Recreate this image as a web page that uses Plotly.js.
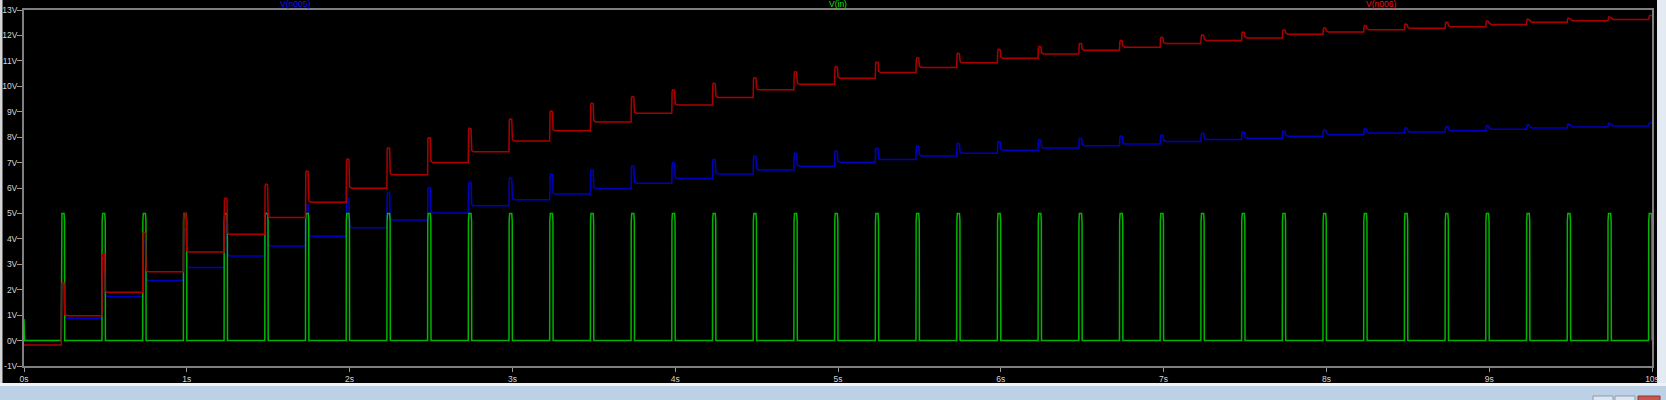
<!DOCTYPE html>
<html>
<head>
<meta charset="utf-8">
<script src="https://cdn.plot.ly/plotly-3.0.1.min.js"></script>
<style>
html,body{margin:0;padding:0;background:#000;overflow:hidden;}
#chart{width:1666px;height:400px;}
</style>
</head>
<body>
<div id="chart"></div>
<script>
// ---- data ----
const traceNames = ["V(n005)", "V(in)", "V(n006)"];
const xTickVals = [0,1,2,3,4,5,6,7,8,9,10];
const xTickText = ["0s","1s","2s","3s","4s","5s","6s","7s","8s","9s","10s"];
const yTickVals = [-1,0,1,2,3,4,5,6,7,8,9,10,11,12,13];
const yTickText = ["-1V","0V","1V","2V","3V","4V","5V","6V","7V","8V","9V","10V","11V","12V","13V"];

// rising edge of each input pulse (s)
const pulseOn = [0.229,0.479,0.729,0.979,1.229,1.479,1.729,1.979,2.229,2.479,
                 2.729,2.979,3.229,3.479,3.729,3.979,4.229,4.479,4.729,4.979,
                 5.229,5.479,5.729,5.979,6.229,6.479,6.729,6.979,7.229,7.479,
                 7.729,7.979,8.229,8.479,8.729,8.979,9.229,9.479,9.729,9.979];
const pulseWidth = 0.021;
const inHigh = 5;
const inLow = 0;
const inStart = 0.85;

// V(n006): plateau level before each pulse, and peak during each pulse
const redLevel = [-0.17,0.98,1.90,2.71,3.48,4.18,4.84,5.44,5.99,6.52,
                  7.00,7.43,7.85,8.25,8.60,8.94,9.26,9.56,9.86,10.08,
                  10.32,10.54,10.74,10.93,11.10,11.27,11.42,11.54,11.68,11.80,
                  11.90,12.05,12.13,12.22,12.28,12.34,12.43,12.52,12.58,12.63];
const redPeak = [2.28,3.41,4.26,5.00,5.60,6.15,6.67,7.14,7.58,7.98,
                 8.35,8.72,9.03,9.34,9.60,9.86,10.12,10.34,10.58,10.78,
                 10.95,11.13,11.30,11.46,11.57,11.69,11.80,11.93,12.02,12.13,
                 12.22,12.30,12.39,12.45,12.52,12.57,12.64,12.68,12.73,12.78];

// V(n005)
const blueLevel = [0.00,0.88,1.73,2.36,2.87,3.33,3.72,4.10,4.44,4.74,
                   5.02,5.30,5.54,5.76,5.98,6.19,6.37,6.55,6.71,6.86,
                   7.01,7.12,7.26,7.37,7.48,7.57,7.66,7.73,7.83,7.91,
                   7.96,8.04,8.10,8.16,8.20,8.25,8.31,8.36,8.40,8.44];
const bluePeak = [2.20,3.24,3.90,4.38,4.75,5.03,5.34,5.60,5.82,6.02,
                  6.23,6.41,6.55,6.71,6.87,7.00,7.13,7.26,7.37,7.46,
                  7.57,7.66,7.76,7.83,7.90,7.96,8.05,8.09,8.16,8.21,
                  8.25,8.29,8.33,8.37,8.42,8.44,8.48,8.52,8.55,8.57];

// ---- build waveforms from the values ----
function buildNode(levels, peaks) {
  const x = [0], y = [levels[0]];
  for (let k = 0; k < pulseOn.length; k++) {
    const on = pulseOn[k], off = on + pulseWidth;
    x.push(on, on + 0.002, on + 0.006);
    y.push(levels[k], peaks[k] - 0.06, peaks[k]);
    if (k < pulseOn.length - 1) {
      x.push(off - 0.004, off, off + 0.012);
      y.push(peaks[k] - 0.02, levels[k + 1] + 0.05, levels[k + 1]);
    } else {
      x.push(10);
      y.push(peaks[k]);
    }
  }
  return {x, y};
}
function buildInput() {
  const x = [0, 0.003], y = [inStart, inLow];
  for (let k = 0; k < pulseOn.length; k++) {
    const on = pulseOn[k], off = Math.min(on + pulseWidth, 10);
    x.push(on, on + 0.001, on + 0.004, off - 0.004, off - 0.001, off);
    y.push(inLow, inHigh - 0.3, inHigh, inHigh, inHigh - 0.3, inLow);
  }
  return {x, y};
}

const blue = buildNode(blueLevel, bluePeak);
const green = buildInput();
const red = buildNode(redLevel, redPeak);

const traces = [
  {x: blue.x, y: blue.y, mode: "lines", name: traceNames[0], line: {color: "#0000c0", width: 1.5}, hoverinfo: "skip"},
  {x: green.x, y: green.y, mode: "lines", name: traceNames[1], line: {color: "#00b400", width: 1.5}, hoverinfo: "skip"},
  {x: red.x, y: red.y, mode: "lines", name: traceNames[2], line: {color: "#ac0000", width: 1.5}, hoverinfo: "skip"}
];

// helpers for decorative window chrome (pixel -> paper)
const L = 24, R = 14, T = 10, B = 34, W = 1666, H = 400;
const pw = W - L - R, ph = H - T - B;
const px = v => (v - L) / pw;
const py = v => (H - B - v) / ph;
function rect(x0, y0, x1, y1, color, line) {
  return {type: "rect", xref: "paper", yref: "paper", x0: px(x0), x1: px(x1), y0: py(y1), y1: py(y0),
          fillcolor: color, line: {width: line ? 1 : 0, color: line || color}, layer: "below"};
}

const tickFont = {family: "Liberation Sans, Arial, sans-serif", size: 8.5, color: "#d4d4d4"};

const layout = {
  width: W, height: H,
  margin: {l: L, r: R, t: T, b: B, pad: 0},
  paper_bgcolor: "#000000",
  plot_bgcolor: "#000000",
  showlegend: false,
  xaxis: {
    range: [0, 10], tickvals: xTickVals, ticktext: xTickText,
    showgrid: false, zeroline: false,
    showline: true, mirror: true, linecolor: "#7f7f7f", linewidth: 2,
    ticks: "outside", ticklen: 4, tickwidth: 1, tickcolor: "#9a9a9a",
    tickfont: tickFont, fixedrange: true
  },
  yaxis: {
    range: [-1, 13], tickvals: yTickVals, ticktext: yTickText,
    showgrid: false, zeroline: false,
    showline: true, mirror: true, linecolor: "#7f7f7f", linewidth: 2,
    ticks: "outside", ticklen: 5, tickwidth: 1, tickcolor: "#9a9a9a",
    ticklabelstandoff: -2,
    tickfont: tickFont, fixedrange: true
  },
  annotations: [
    {text: traceNames[0], xref: "paper", yref: "paper", x: 1/6, y: py(4), xanchor: "center", yanchor: "middle", showarrow: false,
     font: {family: "Liberation Sans, Arial, sans-serif", size: 8.5, color: "#1010ff"}},
    {text: traceNames[1], xref: "paper", yref: "paper", x: 3/6, y: py(4), xanchor: "center", yanchor: "middle", showarrow: false,
     font: {family: "Liberation Sans, Arial, sans-serif", size: 8.5, color: "#10e010"}},
    {text: traceNames[2], xref: "paper", yref: "paper", x: 5/6, y: py(4), xanchor: "center", yanchor: "middle", showarrow: false,
     font: {family: "Liberation Sans, Arial, sans-serif", size: 8.5, color: "#f01010"}}
  ],
  shapes: [
    rect(0, 0, 2.5, 383, "#d6d6d6"),
    rect(1657, 0, 1666, 383, "#e4eaf1"),
    rect(0, 383, 1666, 386, "#f2f2f2"),
    rect(0, 386, 1666, 400, "#bcd0e6"),
    rect(1593, 396, 1613, 401, "#dde6f0", "#8b9bb0"),
    rect(1615, 396, 1635, 401, "#dde6f0", "#8b9bb0"),
    rect(1638, 396, 1660, 401, "#c9564c", "#8b3a33")
  ]
};

Plotly.newPlot("chart", traces, layout, {staticPlot: true, displayModeBar: false});
</script>
</body>
</html>
